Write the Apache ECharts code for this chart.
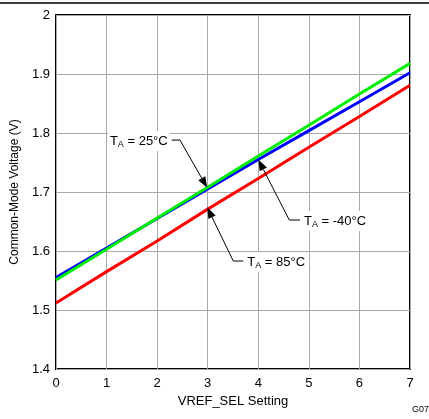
<!DOCTYPE html>
<html><head><meta charset="utf-8">
<script src="https://cdn.jsdelivr.net/npm/echarts@6/dist/echarts.min.js"></script>
<style>html,body{margin:0;padding:0;background:#fff}#c{width:429px;height:419px}</style>
</head><body><div id="c"></div>
<script>
// ---- data ----
const settings = [0, 1, 2, 3, 4, 5, 6, 7];
const vMinus40 = [1.555, 1.605, 1.655, 1.705, 1.755, 1.804, 1.853, 1.902];
const v25      = [1.551, 1.603, 1.656, 1.708, 1.761, 1.813, 1.866, 1.918];
const v85      = [1.512, 1.565, 1.617, 1.671, 1.723, 1.776, 1.828, 1.881];
const xTicks = [0, 1, 2, 3, 4, 5, 6, 7];
const yTicks = [1.4, 1.5, 1.6, 1.7, 1.8, 1.9, 2];
// annotation anchors in data space: arrow tip, elbow, end of leader (text side)
const annTemps = ['25', '-40', '85'];
const annTips   = [[2.99, 1.707], [4.0, 1.755], [2.99, 1.674]];
const annElbows = [[2.452, 1.788], [4.613, 1.6525], [3.506, 1.583]];
const annEnds   = [[2.288, 1.788], [4.825, 1.6525], [3.704, 1.583]];
const annSides  = ['left', 'right', 'right'];

const FONT = '"Liberation Sans", Arial, sans-serif';
const chart = echarts.init(document.getElementById('c'), null, {renderer: 'canvas'});

function mk(vals) { return settings.map((s, i) => [s, vals[i]]); }

chart.setOption({
  animation: false,
  backgroundColor: '#fff',
  grid: {left: 56, right: 19, top: 15, bottom: 50, show: true, borderColor: '#000', borderWidth: 2, backgroundColor: 'transparent'},
  xAxis: {
    type: 'value', min: xTicks[0], max: xTicks[xTicks.length - 1], interval: 1,
    name: 'VREF_SEL Setting', nameLocation: 'middle', nameGap: 24,
    nameTextStyle: {fontFamily: FONT, fontSize: 13, color: '#000'},
    axisLine: {show: false}, axisTick: {show: false},
    axisLabel: {fontFamily: FONT, fontSize: 13, color: '#000', margin: 8},
    splitLine: {show: true, lineStyle: {color: '#aaa', width: 1}}
  },
  yAxis: {
    type: 'value', min: yTicks[0], max: yTicks[yTicks.length - 1], interval: 0.1,
    name: 'Common-Mode Voltage (V)', nameLocation: 'middle', nameGap: 31,
    nameTextStyle: {fontFamily: FONT, fontSize: 12, color: '#000'},
    axisLine: {show: false}, axisTick: {show: false},
    axisLabel: {fontFamily: FONT, fontSize: 13, color: '#000', margin: 6,
      formatter: v => String(Math.round(v * 10) / 10)},
    splitLine: {show: true, lineStyle: {color: '#aaa', width: 1}}
  },
  series: [
    {type: 'line', data: mk(v85), showSymbol: false, lineStyle: {color: '#ff0000', width: 3}, z: 3},
    {type: 'line', data: mk(vMinus40), showSymbol: false, lineStyle: {color: '#0000ff', width: 3}, z: 3},
    {type: 'line', data: mk(v25), showSymbol: false, lineStyle: {color: '#00ee00', width: 3}, z: 4}
  ]
});

const g = [];
g.push({type: 'line', shape: {x1: 0, y1: 3, x2: 429, y2: 3}, style: {stroke: '#000', lineWidth: 1.5}});
g.push({type: 'text', right: 0, top: 405, style: {text: 'G07', font: '9px ' + FONT, fill: '#000'}});

for (let i = 0; i < annTemps.length; i++) {
  const tip = chart.convertToPixel({gridIndex: 0}, annTips[i]);
  const elb = chart.convertToPixel({gridIndex: 0}, annElbows[i]);
  const end = chart.convertToPixel({gridIndex: 0}, annEnds[i]);
  const dx = tip[0] - elb[0], dy = tip[1] - elb[1];
  const L = Math.hypot(dx, dy), ux = dx / L, uy = dy / L;
  const hl = 11, hw = 4;
  const bx = tip[0] - ux * hl, by = tip[1] - uy * hl;
  g.push({type: 'polyline', z: 10, shape: {points: [end, elb, [bx, by]]}, style: {stroke: '#000', lineWidth: 1, fill: null}});
  g.push({type: 'polygon', z: 10, shape: {points: [tip, [bx - uy * hw, by + ux * hw], [bx + uy * hw, by - ux * hw]]}, style: {fill: '#000'}});
  const left = annSides[i] === 'right';
  g.push({type: 'text', z: 11, x: left ? end[0] + 2 : end[0] - 2, y: end[1] + 1,
    style: {
      text: '{t|T}{s|A}{t| = ' + annTemps[i] + '°C}',
      align: left ? 'left' : 'right', verticalAlign: 'middle',
      backgroundColor: '#fff', padding: [2, 2, 2, 2],
      rich: {
        t: {fontFamily: FONT, fontSize: 13, fill: '#000', lineHeight: 16},
        s: {fontFamily: FONT, fontSize: 9, fill: '#000', lineHeight: 16, padding: [6, 0, 0, 0]}
      }
    }});
}
chart.setOption({graphic: g});
</script></body></html>
